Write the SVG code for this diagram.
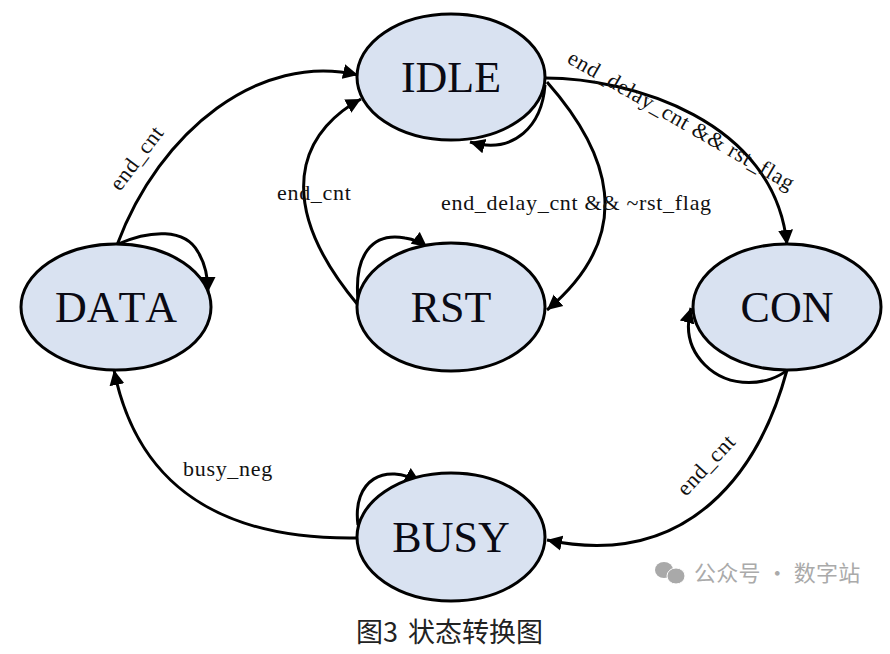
<svg xmlns="http://www.w3.org/2000/svg" width="890" height="654" viewBox="0 0 890 654">
<defs>
<marker id="a" markerUnits="userSpaceOnUse" markerWidth="17" markerHeight="16" refX="15" refY="8" orient="auto"><path d="M0,0.5L15,8L0,15.5Z" fill="#000"/></marker>
</defs>
<style>
.n{fill:#d9e2f1;stroke:#000;stroke-width:3}
.t{font-family:"Liberation Serif",serif;font-size:44px;fill:#0a0a14;text-anchor:middle;font-kerning:none}
.l{font-family:"Liberation Serif",serif;font-size:22px;letter-spacing:.7px;fill:#111}
.c{fill:none;stroke:#000;stroke-width:3;marker-end:url(#a)}
</style>
<rect width="890" height="654" fill="#fff"/>
<g id="connectors">
<path class="c" d="M117,245C160,130 260,52 358,75"/>
<path class="c" d="M358,305C312,250 297,205 306,165C313,135 335,113 361,99"/>
<path class="c" d="M358,300C354,255 372,232 405,238Q418,240 427,247"/>
<path class="c" d="M118,244C150,230 185,228 198,252Q208,268 208,292"/>
<path class="c" d="M545,78C630,78 775,120 787,245"/>
<path class="c" d="M547,82C607,150 640,232 547,310"/>
<path class="c" d="M545,85C542,125 515,155 470,142"/>
<path class="c" d="M787,370C770,385 730,390 705,365C690,350 685,330 691,308"/>
<path class="c" d="M787,370C760,470 690,570 547,540"/>
<path class="c" d="M358,538C240,540 140,500 114,370"/>
<path class="c" d="M358,525C352,480 385,462 420,482"/>
</g>
<g id="IDLE"><ellipse class="n" cx="451" cy="77" rx="94" ry="63"/><text class="t" x="451" y="92">IDLE</text></g>
<g id="RST"><ellipse class="n" cx="451" cy="307" rx="94" ry="64"/><text class="t" x="451" y="322">RST</text></g>
<g id="DATA"><ellipse class="n" cx="116" cy="307" rx="95" ry="63"/><text class="t" x="116" y="322">DATA</text></g>
<g id="CON"><ellipse class="n" cx="787" cy="307" rx="94" ry="63"/><text class="t" x="787" y="322">CON</text></g>
<g id="BUSY"><ellipse class="n" cx="451" cy="537" rx="94" ry="64"/><text class="t" x="451" y="552">BUSY</text></g>
<g id="labels">
<text class="l" transform="translate(120,192) rotate(-53)">end_cnt</text>
<text class="l" x="277" y="200">end_cnt</text>
<text class="l" x="441" y="210">end_delay_cnt &amp;&amp; ~rst_flag</text>
<text class="l" transform="translate(566,62) rotate(30)">end_delay_cnt &amp;&amp; rst_flag</text>
<text class="l" x="183" y="476">busy_neg</text>
<text class="l" transform="translate(686,497) rotate(-47)">end_cnt</text>
</g>
<g id="watermark">
<ellipse cx="664" cy="570" rx="9" ry="8" fill="#a9a9a9"/><ellipse cx="676" cy="576" rx="9" ry="8" fill="#a9a9a9" stroke="#fff"/>
<text x="694" y="581" font-family="'Noto Sans CJK SC',sans-serif" font-size="22" letter-spacing=".3" fill="#aaa">公众号 · 数字站</text>
</g>
<g id="caption" font-family="'Noto Sans CJK SC',sans-serif" font-size="27" fill="#222"><text x="356" y="642">图3</text><text x="408" y="642">状态转换图</text></g>
</svg>
